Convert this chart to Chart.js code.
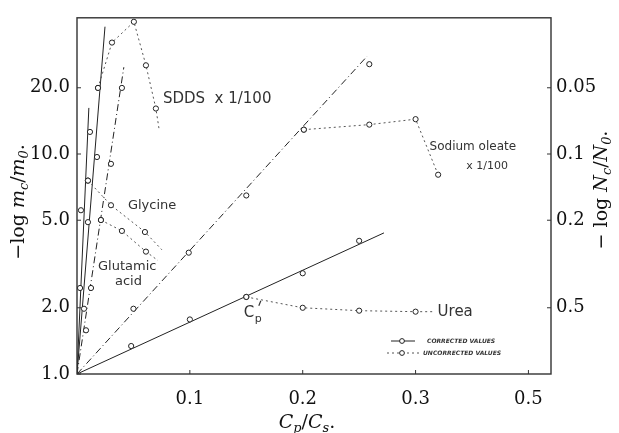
<!DOCTYPE html>
<html>
<head>
<meta charset="utf-8">
<script src="https://cdn.jsdelivr.net/npm/chart.js@4.4.1/dist/chart.umd.min.js"></script>
<style>
    body { margin: 0; background: #fff; }
    #wrap { width: 619px; height: 433px; }
</style>
</head>
<body>
<div id="wrap"><canvas id="chart" width="619" height="433"></canvas></div>
<script>
// x = Cp/Cs, y = -log mc/m0
let xTicks = [0.1, 0.2, 0.3, 0.4];
let xTickLabels = ["0.1", "0.2", "0.3", "0.5"];
let yTicks = [1, 2, 5, 10, 20];
let yTickLabels = ["1.0", "2.0", "5.0", "10.0", "20.0"];
let y2Ticks = [0.05, 0.1, 0.2, 0.5];
let y2TickLabels = ["0.05", "0.1", "0.2", "0.5"];
let xMax = 0.42;
let yMax = 41.6;

// urea
let ureaX = [0.048, 0.1, 0.15, 0.2, 0.25];
let ureaY = [1.34, 1.77, 2.24, 2.87, 4.03];
let ureaFitX = [0, 0.272];
let ureaFitY = [1, 4.38];
let ureaUncX = [0.15, 0.2, 0.25, 0.3, 0.315];
let ureaUncY = [2.24, 2.0, 1.94, 1.92, 1.92];

// sodium oleate x 1/100
let oleateX = [0.05, 0.099, 0.15, 0.201, 0.259];
let oleateY = [1.98, 3.56, 6.48, 12.9, 25.6];
let oleateFitX = [0, 0.257];
let oleateFitY = [1, 27.8];
let oleateUncX = [0.201, 0.259, 0.3, 0.32];
let oleateUncY = [12.9, 13.6, 14.4, 8.05];

// SDDS x 1/100
let sddsX = [0.0062, 0.0097, 0.0177, 0.0186];
let sddsY = [1.98, 4.9, 9.69, 19.97];
let sddsFitX = [0, 0.0248];
let sddsFitY = [1, 37.9];
let sddsUncX = [0.0186, 0.031, 0.0504, 0.0611, 0.0699, 0.0726];
let sddsUncY = [19.97, 32.1, 39.9, 25.3, 16.1, 13.1];

// glutamic acid
let glutX = [0.008, 0.0124, 0.0212, 0.0301, 0.0398];
let glutY = [1.58, 2.46, 5.01, 9.02, 19.97];
let glutFitX = [0, 0.0415];
let glutFitY = [1, 24.8];
let glutUncX = [0.0212, 0.0398, 0.0611, 0.0717];
let glutUncY = [5.01, 4.47, 3.6, 3.28];

// glycine
let glyX = [0.0027, 0.0035, 0.0097, 0.0115];
let glyY = [2.46, 5.55, 7.57, 12.6];
let glyFitX = [0, 0.0105];
let glyFitY = [1, 16.2];
let glyUncX = [0.0097, 0.0301, 0.0602, 0.0752];
let glyUncY = [7.57, 5.85, 4.42, 3.67];

let ink = "#222";
let dotGray = "#555";

function pts(xs, ys) {
    return xs.map((x, i) => ({ x: x, y: ys[i] }));
}

function fitLine(xs, ys, dash) {
    return {
        data: pts(xs, ys),
        showLine: true,
        borderColor: ink,
        borderWidth: 1,
        borderDash: dash,
        pointRadius: 0,
        order: 3
    };
}

// uncorrected curves, last entry of the tail ones is the line end without a marker
function uncLine(xs, ys, tail) {
    return {
        data: pts(xs, ys),
        showLine: true,
        borderColor: dotGray,
        borderWidth: 1,
        borderDash: [2, 3],
        pointRadius: xs.map((x, i) => (tail && i == xs.length - 1) ? 0 : 2.6),
        pointBackgroundColor: "#fff",
        pointBorderColor: ink,
        pointBorderWidth: 1,
        order: 2
    };
}

function marks(xs, ys) {
    return {
        data: pts(xs, ys),
        showLine: false,
        pointRadius: 2.6,
        pointBackgroundColor: "#fff",
        pointBorderColor: ink,
        pointBorderWidth: 1,
        order: 1
    };
}

let notes = [
    { text: "SDDS  x 1/100", x: 0.0761, y: 17.8, size: 15 },
    { text: "Glycine", x: 0.0451, y: 5.85, size: 13 },
    { text: "Glutamic", x: 0.0186, y: 3.08, size: 13 },
    { text: "acid", x: 0.0336, y: 2.64, size: 13 },
    { text: "Sodium oleate", x: 0.3124, y: 10.75, size: 12 },
    { text: "x 1/100", x: 0.345, y: 8.84, size: 11 },
    { text: "Urea", x: 0.3195, y: 1.92, size: 15 }
];

let serif = "'DejaVu Serif', serif";
let hand = "'DejaVu Sans', sans-serif";

// draws a run of [text, style] pieces, style: n normal, i italic, s italic subscript
function drawRuns(ctx, runs, x, y, size) {
    runs.forEach(r => {
        let t = r[0], st = r[1];
        let fs = st == "s" ? size * 0.68 : size;
        ctx.font = (st == "n" ? "" : "italic ") + fs + "px " + serif;
        ctx.fillText(t, x, st == "s" ? y + size * 0.22 : y);
        x += ctx.measureText(t).width;
    });
}

function runsWidth(ctx, runs, size) {
    let w = 0;
    runs.forEach(r => {
        let fs = r[1] == "s" ? size * 0.68 : size;
        ctx.font = (r[1] == "n" ? "" : "italic ") + fs + "px " + serif;
        w += ctx.measureText(r[0]).width;
    });
    return w;
}

let decorPlugin = {
    id: "decor",
    afterDraw(chart) {
        let ctx = chart.ctx;
        let a = chart.chartArea;
        let xs = chart.scales.x, ys = chart.scales.y, y2s = chart.scales.y2;

        ctx.save();
        // frame
        ctx.strokeStyle = "#333";
        ctx.lineWidth = 1.4;
        ctx.strokeRect(a.left, a.top, a.right - a.left, a.bottom - a.top);

        // small inward ticks
        ctx.lineWidth = 1;
        ctx.beginPath();
        xTicks.forEach(v => {
            let px = xs.getPixelForValue(v);
            ctx.moveTo(px, a.bottom);
            ctx.lineTo(px, a.bottom - 4);
        });
        yTicks.forEach(v => {
            let py = ys.getPixelForValue(v);
            ctx.moveTo(a.left, py);
            ctx.lineTo(a.left + 4, py);
        });
        y2Ticks.forEach(v => {
            let py = y2s.getPixelForValue(v);
            ctx.moveTo(a.right, py);
            ctx.lineTo(a.right - 4, py);
        });
        ctx.stroke();

        // hand lettered notes
        ctx.fillStyle = "#333";
        ctx.textBaseline = "middle";
        ctx.textAlign = "left";
        notes.forEach(n => {
            ctx.font = n.size + "px " + hand;
            ctx.fillText(n.text, xs.getPixelForValue(n.x), ys.getPixelForValue(n.y));
        });
        // C_p' label
        let cx = xs.getPixelForValue(0.1487), cy = ys.getPixelForValue(1.9);
        ctx.font = "15px " + hand;
        ctx.fillText("C", cx - 1, cy);
        ctx.font = "11px " + hand;
        ctx.fillText("p", cx + 10, cy + 6);
        ctx.strokeStyle = "#333";
        ctx.lineWidth = 1.2;
        ctx.beginPath();
        ctx.moveTo(cx + 16, cy - 12);
        ctx.lineTo(cx + 14, cy - 7);
        ctx.stroke();
        ctx.lineWidth = 1;

        // legend
        let lx = a.right - 160, ly1 = a.bottom - 33, ly2 = a.bottom - 21;
        ctx.strokeStyle = ink;
        ctx.beginPath();
        ctx.moveTo(lx, ly1);
        ctx.lineTo(lx + 24, ly1);
        ctx.stroke();
        ctx.setLineDash([2, 3]);
        ctx.strokeStyle = dotGray;
        ctx.beginPath();
        ctx.moveTo(lx - 4, ly2);
        ctx.lineTo(lx + 30, ly2);
        ctx.stroke();
        ctx.setLineDash([]);
        ctx.strokeStyle = ink;
        ctx.fillStyle = "#fff";
        [ly1, ly2].forEach(ly => {
            ctx.beginPath();
            ctx.arc(lx + 11, ly, 2.4, 0, Math.PI * 2);
            ctx.fill();
            ctx.stroke();
        });
        ctx.fillStyle = "#333";
        ctx.font = "italic bold 6px " + hand;
        ctx.fillText("CORRECTED VALUES", lx + 36, ly1);
        ctx.fillText("UNCORRECTED VALUES", lx + 32, ly2);

        // axis titles
        ctx.fillStyle = "#111";
        ctx.textBaseline = "alphabetic";
        let leftRuns = [["\u2212log ", "n"], ["m", "i"], ["c", "s"], ["/", "n"], ["m", "i"], ["0", "s"], [".", "n"]];
        let rightRuns = [["\u2212 log ", "n"], ["N", "i"], ["c", "s"], ["/", "n"], ["N", "i"], ["0", "s"], [".", "n"]];
        let botRuns = [["C", "i"], ["p", "s"], ["/", "n"], ["C", "i"], ["s", "s"], [".", "n"]];
        let fs = 19;

        ctx.save();
        ctx.translate(24, (a.top + a.bottom) / 2 + 6);
        ctx.rotate(-Math.PI / 2);
        drawRuns(ctx, leftRuns, -runsWidth(ctx, leftRuns, fs) / 2, 0, fs);
        ctx.restore();

        ctx.save();
        ctx.translate(607, 190);
        ctx.rotate(-Math.PI / 2);
        drawRuns(ctx, rightRuns, -runsWidth(ctx, rightRuns, fs) / 2, 0, fs);
        ctx.restore();

        drawRuns(ctx, botRuns, 307 - runsWidth(ctx, botRuns, fs) / 2, 428, fs);
        ctx.restore();
    }
};

let chartEl = document.getElementById("chart");

let config = {
    type: "scatter",
    data: {
        datasets: [
            fitLine(ureaFitX, ureaFitY, []),
            fitLine(oleateFitX, oleateFitY, [7, 3, 1, 3]),
            fitLine(sddsFitX, sddsFitY, []),
            fitLine(glutFitX, glutFitY, [7, 3, 1, 3]),
            fitLine(glyFitX, glyFitY, []),
            uncLine(ureaUncX, ureaUncY, true),
            uncLine(oleateUncX, oleateUncY, false),
            uncLine(sddsUncX, sddsUncY, true),
            uncLine(glutUncX, glutUncY, true),
            uncLine(glyUncX, glyUncY, true),
            marks(ureaX, ureaY),
            marks(oleateX, oleateY),
            marks(sddsX, sddsY),
            marks(glutX, glutY),
            marks(glyX, glyY)
        ]
    },
    options: {
        responsive: false,
        animation: false,
        layout: { padding: { top: 13, left: 0, right: 0, bottom: 0 } },
        plugins: {
            legend: { display: false },
            tooltip: { enabled: false }
        },
        scales: {
            x: {
                type: "linear",
                min: 0,
                max: xMax,
                grid: { display: false, drawTicks: false },
                border: { display: false },
                afterBuildTicks: s => { s.ticks = xTicks.map(v => ({ value: v })); },
                afterFit: s => { s.height = 59; },
                ticks: {
                    autoSkip: false,
                    maxRotation: 0,
                    padding: 15,
                    color: "#111",
                    font: { family: "DejaVu Serif", size: 18 },
                    callback: (v, i) => xTickLabels[i]
                }
            },
            y: {
                type: "logarithmic",
                position: "left",
                min: 1,
                max: yMax,
                grid: { display: false, drawTicks: false },
                border: { display: false },
                afterBuildTicks: s => { s.ticks = yTicks.map(v => ({ value: v })); },
                afterFit: s => { s.width = 77; },
                ticks: {
                    autoSkip: false,
                    padding: 7,
                    color: "#111",
                    font: { family: "DejaVu Serif", size: 18 },
                    callback: (v, i) => yTickLabels[i]
                }
            },
            y2: {
                type: "logarithmic",
                position: "right",
                min: 1 / yMax,
                max: 1,
                reverse: true,
                grid: { display: false, drawTicks: false },
                border: { display: false },
                afterBuildTicks: s => { s.ticks = y2Ticks.map(v => ({ value: v })); },
                afterFit: s => { s.width = 68; },
                ticks: {
                    autoSkip: false,
                    padding: 5,
                    color: "#111",
                    font: { family: "DejaVu Serif", size: 18 },
                    callback: (v, i) => y2TickLabels[i]
                }
            }
        }
    },
    plugins: [decorPlugin]
};

let chart = new Chart(chartEl, config);
</script>
</body>
</html>
